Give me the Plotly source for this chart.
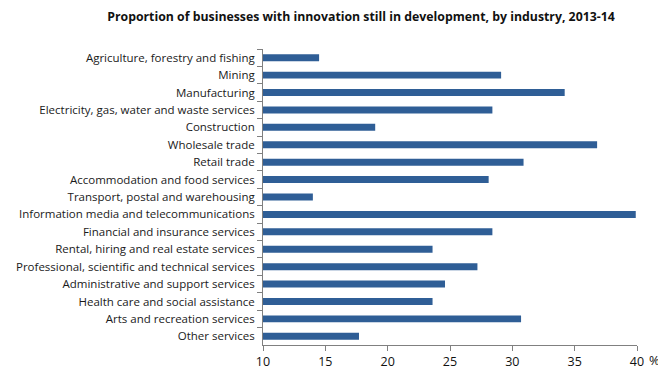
import plotly.graph_objects as go

categories = [
    "Agriculture, forestry and fishing",
    "Mining",
    "Manufacturing",
    "Electricity, gas, water and waste services",
    "Construction",
    "Wholesale trade",
    "Retail trade",
    "Accommodation and food services",
    "Transport, postal and warehousing",
    "Information media and telecommunications",
    "Financial and insurance services",
    "Rental, hiring and real estate services",
    "Professional, scientific and technical services",
    "Administrative and support services",
    "Health care and social assistance",
    "Arts and recreation services",
    "Other services",
]
values = [14.5, 29.1, 34.2, 28.4, 19.0, 36.8, 30.9, 28.1, 14.0, 39.9,
          28.4, 23.6, 27.2, 24.6, 23.6, 30.7, 17.7]
x_ticks = [10, 15, 20, 25, 30, 35, 40]

# page body has an 8px default margin; figure sized to fill the rest of the window
W, H = 658, 369
L, R, T, B = 255, 29, 41, 32
PW, PH = W - L - R, H - T - B

fig = go.Figure(go.Bar(
    x=values, y=categories, orientation="h",
    marker=dict(color="#2F5E96", line=dict(width=0)),
    width=0.4,
))

fig.update_layout(
    width=W, height=H,
    margin=dict(l=L, r=R, t=T, b=B, autoexpand=False),
    paper_bgcolor="white", plot_bgcolor="white",
    font=dict(family="Open Sans, Liberation Sans, sans-serif", size=11.5, color="#1a1a1a"),
    title=dict(
        text="<b>Proportion of businesses with innovation still in development, by industry, 2013-14</b>",
        x=353 / W, xanchor="center", y=1 - 9 / H, yanchor="middle",
        font=dict(size=12.3, color="#111111", family="Open Sans, Liberation Sans, sans-serif"),
    ),
    showlegend=False,
)

fig.update_xaxes(
    range=[10, 40], tickvals=x_ticks, ticks="outside", ticklen=5,
    tickcolor="#808080", showline=True, linecolor="#808080", linewidth=1,
    showgrid=False, zeroline=False, tickfont=dict(size=12.5, color="#111111"),
    automargin=False,
)
fig.update_yaxes(
    autorange="reversed", ticks="outside", ticklen=5, tickson="boundaries",
    tickcolor="#808080", showline=True, linecolor="#808080", linewidth=1,
    showgrid=False, tickfont=dict(size=11.5, color="#1a1a1a"),
    ticklabelstandoff=5, automargin=False,
)

fig.add_annotation(
    text="%", xref="paper", yref="paper", showarrow=False,
    x=(646 - L) / PW, y=-(352 - (H - B)) / PH * -1 if False else -(352 - (H - B)) / PH,
    xanchor="center", yanchor="middle",
    font=dict(size=13, color="#111111"),
)

fig.write_html("out.html")
